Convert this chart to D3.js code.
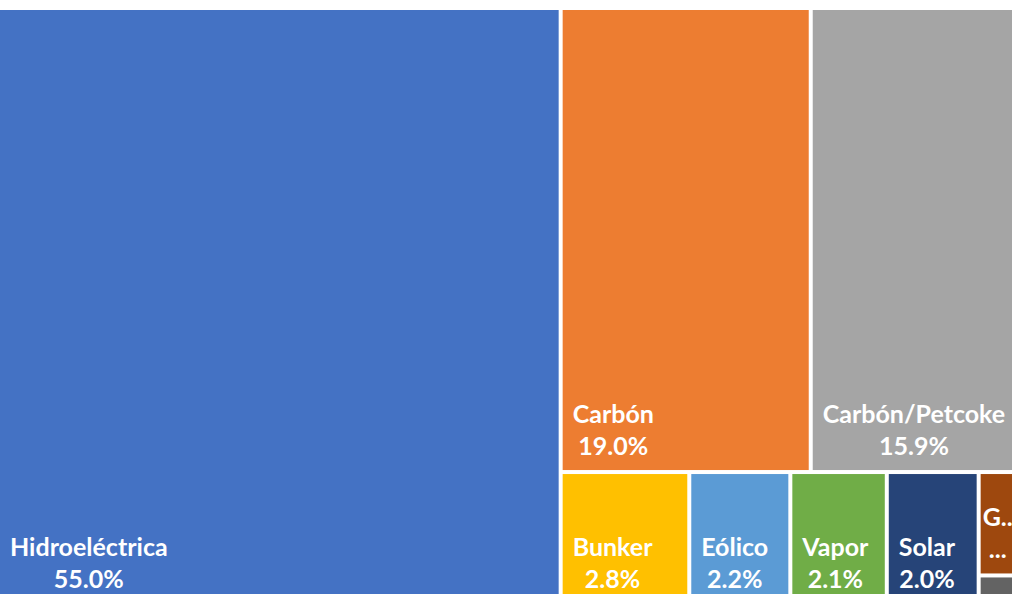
<!DOCTYPE html>
<html>
<head>
<meta charset="utf-8">
<script src="https://cdn.jsdelivr.net/npm/d3@7"></script>
<style>
  body { margin: 0; background: #fff; }
  svg { display: block; }
  text { font-family: Lato, "Open Sans", sans-serif; font-weight: bold; fill: #fff; }
</style>
</head>
<body>
<script>
// generation mix (share of total, %)
var categories = ["Hidroeléctrica", "Carbón", "Carbón/Petcoke", "Bunker", "Eólico", "Vapor", "Solar", "Geotérmica", "Biogás"];
var values = [55.0, 19.0, 15.9, 2.8, 2.2, 2.1, 2.0, 0.7, 0.2];
var colors = ["#4472C4", "#ED7D31", "#A5A5A5", "#FFC000", "#5B9BD5", "#70AD47", "#264478", "#9E480E", "#636363"];

var width = 1012, height = 594;

var svg = d3.select("body").append("svg")
  .attr("width", width)
  .attr("height", height);

var root = d3.hierarchy({
  children: categories.map(function (c, i) { return { name: c, value: values[i], color: colors[i] }; })
}).sum(function (d) { return d.value || 0; });

// the chart is a bit bigger than the window, the edges get cut like in the picture
d3.treemap()
  .size([1018, 593])
  .tile(d3.treemapSquarify.ratio(1.2))
  .paddingInner(4)
  .round(false)(root);

var g = svg.append("g").attr("transform", "translate(0,10)");

var cell = g.selectAll("g.cell")
  .data(root.leaves())
  .enter().append("g")
  .attr("class", "cell");

cell.append("rect")
  .attr("x", function (d) { return d.x0; })
  .attr("y", function (d) { return d.y0; })
  .attr("width", function (d) { return d.x1 - d.x0; })
  .attr("height", function (d) { return d.y1 - d.y0; })
  .attr("fill", function (d) { return d.data.color; });

var fmt = d3.format(".1f");

cell.each(function (d) {
  var w = Math.min(d.x1, width) - d.x0, h = d.y1 - d.y0; // only the visible part counts
  if (h < 40) return; // too small, no label
  var pad = w < 60 ? 2 : 10;
  var avail = w - pad - 2;
  var sel = d3.select(this);

  var name = sel.append("text").attr("font-size", 25).attr("text-anchor", "middle")
    .attr("y", d.y1 - 47).text(d.data.name);
  var val = sel.append("text").attr("font-size", 25).attr("text-anchor", "middle")
    .attr("y", d.y1 - 15).text(fmt(d.data.value) + "%");

  // shorten names that do not fit
  var txt = d.data.name;
  while (name.node().getComputedTextLength() > avail && txt.length > 1) {
    txt = txt.slice(0, -1);
    name.text(txt + "..");
  }
  if (val.node().getComputedTextLength() > avail) val.text("...");

  var bw = Math.max(name.node().getComputedTextLength(), val.node().getComputedTextLength());
  var cx = d.x0 + pad + bw / 2;
  name.attr("x", cx);
  val.attr("x", cx);
});
</script>
</body>
</html>
